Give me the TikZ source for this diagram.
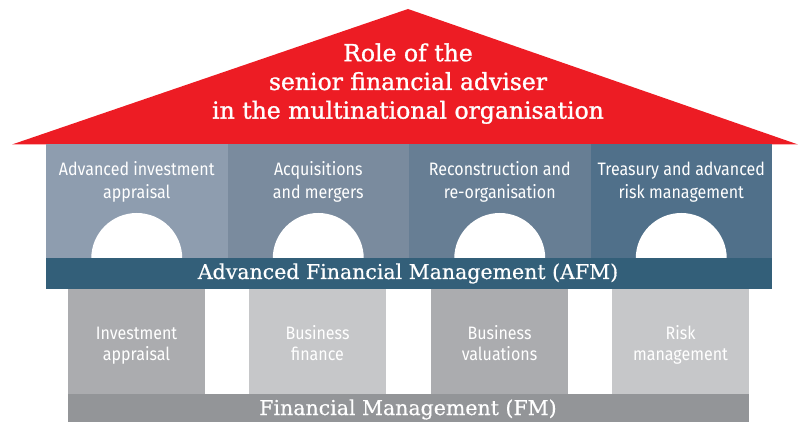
\documentclass[tikz,border=0pt]{standalone}
\usepackage{fontspec}
\newfontfamily\titlefont[FakeBold=0.5]{DejaVu Serif}
\newfontfamily\titleboldfont[FakeBold=1.2]{DejaVu Serif}
\newfontfamily\condfont[FakeStretch=0.89]{Fira Sans}
\definecolor{roofred}{HTML}{ED1C24}
\definecolor{colA}{HTML}{8E9DAF}
\definecolor{colB}{HTML}{7A8B9E}
\definecolor{colC}{HTML}{677E94}
\definecolor{colD}{HTML}{50708A}
\definecolor{afmband}{HTML}{335F79}
\definecolor{pilDark}{HTML}{ABACAF}
\definecolor{pilLight}{HTML}{C6C7C9}
\definecolor{fmband}{HTML}{939598}
\tikzset{
  box/.style={inner sep=0pt, outer sep=0pt, draw=none},
  colbox/.style={box, minimum width=181.5pt, minimum height=114pt},
  pillar/.style={box, minimum width=137pt, minimum height=105pt},
  coltext/.style={text=white, align=center, inner sep=0pt, font={\condfont\fontsize{18}{22.5}\selectfont}},
  piltext/.style={text=white, align=center, inner sep=0pt, font={\condfont\fontsize{18}{21}\selectfont}},
  bandtext/.style={text=white, inner sep=0pt, anchor=base, font={\titlefont\fontsize{20.5}{24}\selectfont}},
}
\begin{document}
\begin{tikzpicture}[x=1pt,y=-1pt]
\useasboundingbox (0,0) rectangle (798,422);
% roof
\fill[roofred] (12,144.5) -- (408,9) -- (798,144.5) -- cycle;
\node[text=white, align=center, inner sep=0pt, font={\titleboldfont\fontsize{23.5}{28.7}\selectfont}] (title) at (408,84.2) {\strut Role of the\\senior financial adviser\\in the multinational organisation\strut};
% upper columns
\node[colbox, fill=colA] (c1) at (136.75,201.5) {};
\node[colbox, fill=colB] (c2) at (318.25,201.5) {};
\node[colbox, fill=colC] (c3) at (499.75,201.5) {};
\node[colbox, fill=colD] (c4) at (681.25,201.5) {};
\foreach \cx in {136.75,318.25,499.75,681.25}{
  \fill[white] (\cx,258.5) ++(-45.5,0) arc[start angle=180, end angle=360, radius=45.5] -- cycle;
}
\node[coltext] (t1) at (136.75,182.4) {\strut Advanced investment\\appraisal\strut};
\node[coltext] (t2) at (318.25,182.4) {\strut Acquisitions\\and mergers\strut};
\node[coltext] (t3) at (499.75,182.4) {\strut Reconstruction and\\re-organisation\strut};
\node[coltext] (t4) at (681.25,182.4) {\strut Treasury and advanced\\risk management\strut};
% AFM band
\node[box, fill=afmband, minimum width=726pt, minimum height=31pt] (afm) at (409,273.5) {};
\node[bandtext] (afmt) at (408,279) {Advanced Financial Management (AFM)};
% pillars
\node[pillar, fill=pilDark] (p1) at (136.5,341.5) {};
\node[pillar, fill=pilLight] (p2) at (317.5,341.5) {};
\node[pillar, fill=pilDark] (p3) at (499.5,341.5) {};
\node[pillar, fill=pilLight] (p4) at (680.5,341.5) {};
\node[piltext] (q1) at (136.5,345.6) {\strut Investment\\appraisal\strut};
\node[piltext] (q2) at (317.5,345.6) {\strut Business\\finance\strut};
\node[piltext] (q3) at (499.5,345.6) {\strut Business\\valuations\strut};
\node[piltext] (q4) at (680.5,345.6) {\strut Risk\\management\strut};
% FM band
\node[box, fill=fmband, minimum width=681pt, minimum height=28pt] (fm) at (408.5,408) {};
\node[bandtext] (fmt) at (408,415) {Financial Management (FM)};
\end{tikzpicture}
\end{document}
